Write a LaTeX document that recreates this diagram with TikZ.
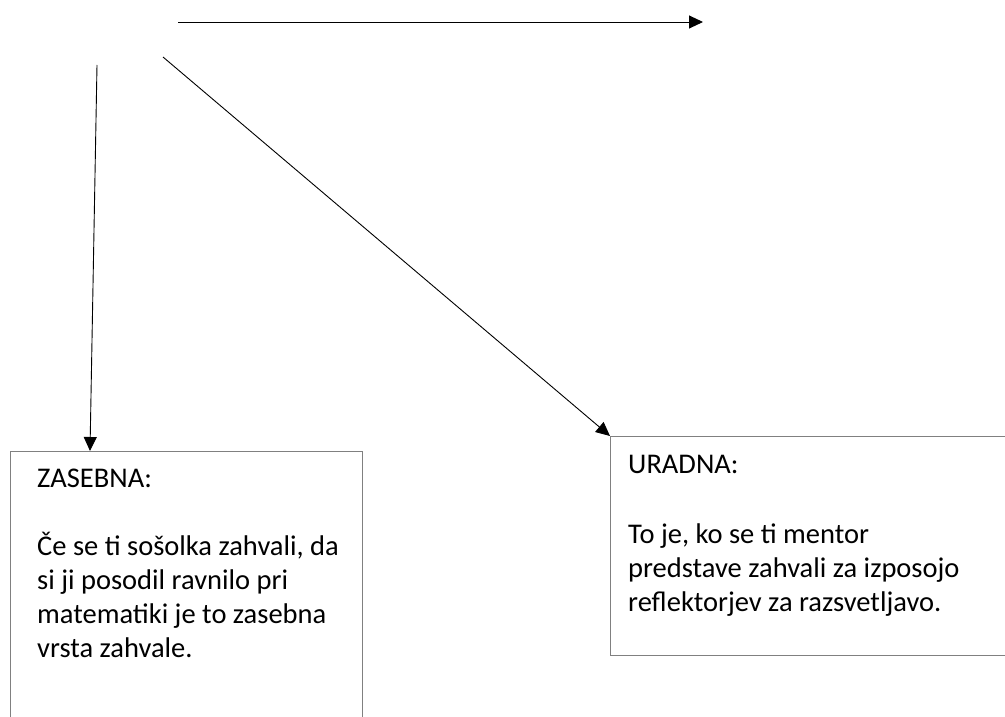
\documentclass[tikz,border=0pt]{standalone}
\usepackage{fontspec}
\setmainfont{Carlito}
\usetikzlibrary{arrows.meta}
\tikzset{
  box/.style={draw=black!50, line width=1pt, rectangle, inner sep=0pt, anchor=north west},
  arr/.style={draw=black, line width=0.9pt, -{Triangle[length=14pt,width=13pt]}},
  txt/.style={anchor=base west, inner sep=0pt, font=\fontsize{28.5}{34}\selectfont}
}
\begin{document}
\begin{tikzpicture}[x=1pt, y=-1pt]
    \useasboundingbox (0,0) rectangle (1005,717);
    \clip (0,0) rectangle (1005,717);

    % boxes
    \node[box, minimum width=352pt, minimum height=300pt] (zasebna) at (10,451) {};
    \node[box, minimum width=410pt, minimum height=219pt] (uradna) at (610,436) {};

    % texts
    \node[txt] (zhead) at (37,487) {ZASEBNA:};
    \node[txt] (zl1) at (37,555) {Če se ti sošolka zahvali, da};
    \node[txt] (zl2) at (37,589) {si ji posodil ravnilo pri};
    \node[txt] (zl3) at (37,623) {matematiki je to zasebna};
    \node[txt] (zl4) at (37,657) {vrsta zahvale.};

    \node[txt] (uhead) at (628,473) {URADNA:};
    \node[txt] (ul1) at (628,543) {To je, ko se ti mentor};
    \node[txt] (ul2) at (628,577) {predstave zahvali za izposojo};
    \node[txt] (ul3) at (628,611) {reflektorjev za razsvetljavo.};

    % connectors
    \coordinate (top start) at (178,22);
    \coordinate (top end) at (703,22);
    \coordinate (down start) at (97,65);
    \coordinate (down end) at (90,451);
    \coordinate (diag start) at (163,57);

    \draw[arr] (top start) -- (top end);
    \draw[arr] (down start) -- (down end);
    \draw[arr] (diag start) -- (uradna.north west);
\end{tikzpicture}
\end{document}
